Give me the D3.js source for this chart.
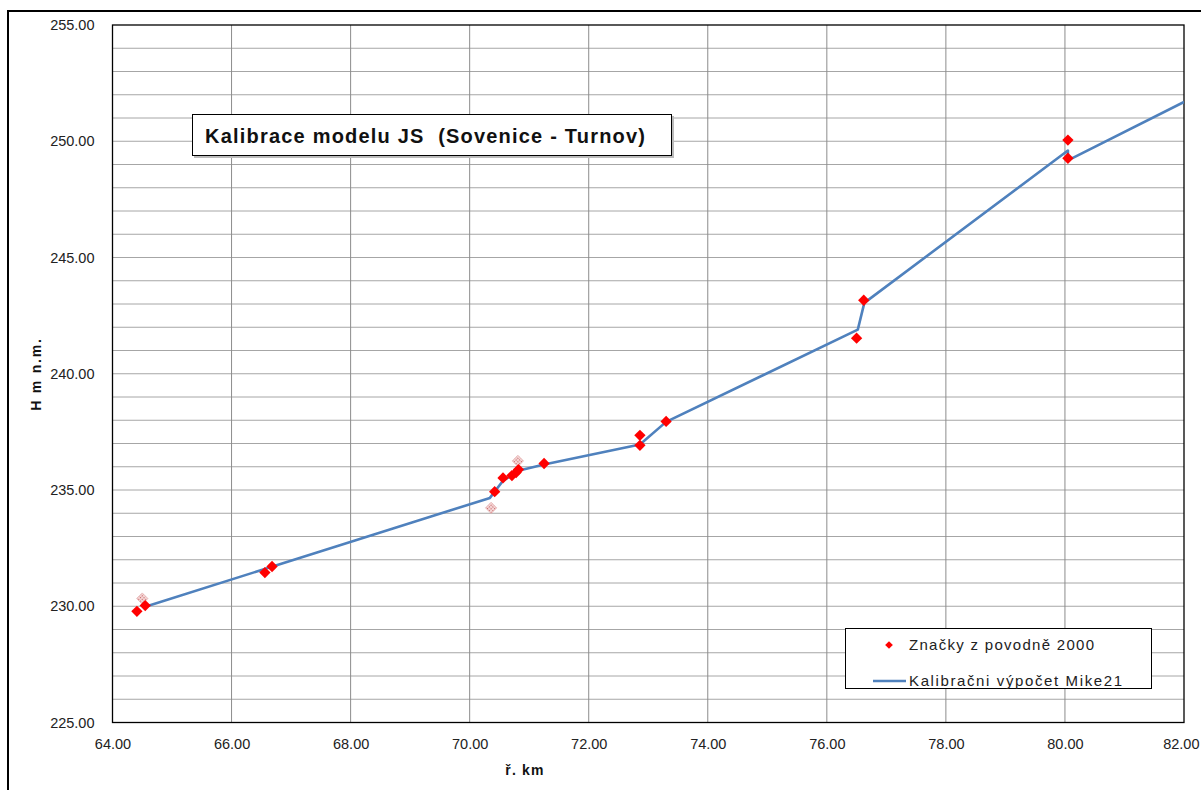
<!DOCTYPE html>
<html><head><meta charset="utf-8">
<script src="https://cdn.jsdelivr.net/npm/d3@7"></script>
<style>body{margin:0;background:#fff}svg{display:block}</style>
</head><body>
<script>
// --- data ---
const xTicks = [64, 66, 68, 70, 72, 74, 76, 78, 80, 82];
const yTicks = [225, 230, 235, 240, 245, 250, 255];
const markX = [64.41, 64.55, 66.56, 66.68, 70.42, 70.56, 70.71, 70.78, 70.82, 71.25, 72.86, 72.86, 73.30, 76.50, 76.62, 80.05, 80.05];
const markY = [229.78, 230.03, 231.45, 231.71, 234.93, 235.52, 235.62, 235.75, 235.88, 236.14, 237.35, 236.92, 237.95, 241.53, 243.16, 250.05, 249.27];
const hatchX = [64.50, 70.36, 70.81];
const hatchY = [230.33, 234.23, 236.25];
const lineX = [64.55, 70.34, 70.56, 70.85, 71.25, 72.86, 73.30, 76.52, 76.63, 80.05, 80.05, 82.0];
const lineY = [229.98, 234.66, 235.40, 235.85, 236.10, 236.96, 237.93, 241.90, 243.05, 249.60, 249.18, 251.69];
const titleText = "Kalibrace modelu JS  (Sovenice - Turnov)";
const legendLabels = ["Značky z povodně 2000", "Kalibračni výpočet Mike21"];
const xTitle = "ř. km";
const yTitle = "H m n.m.";

const W = 1201, H = 790;
const svg = d3.select("body").append("svg").attr("width", W).attr("height", H);
const font = "'Liberation Sans', Arial, sans-serif";

// outer frame
svg.append("rect").attr("x", 8).attr("y", 11).attr("width", 1220).attr("height", 800)
  .attr("fill", "#fff").attr("stroke", "#000").attr("stroke-width", 2);

const L = 112.5, R = 1184, T = 25, B = 722.5;
const x = d3.scaleLinear().domain([64, 82]).range([L, R]);
const y = d3.scaleLinear().domain([225, 255]).range([B, T]);

// pattern for hatched markers
const defs = svg.append("defs");
const pat = defs.append("pattern").attr("id", "hatch").attr("patternUnits", "userSpaceOnUse")
  .attr("width", 2.5).attr("height", 2.5);
pat.append("rect").attr("width", 2.5).attr("height", 2.5).attr("fill", "#f6dada");
pat.append("rect").attr("width", 1.2).attr("height", 1.2).attr("fill", "#c96a6a");
defs.append("clipPath").attr("id", "clip").append("rect").attr("x", L).attr("y", T).attr("width", R - L).attr("height", B - T);

// gridlines
const g = svg.append("g");
g.selectAll(".hg").data(d3.range(226, 255)).join("line")
  .attr("x1", L).attr("x2", R).attr("y1", d => y(d)).attr("y2", d => y(d))
  .attr("stroke", "#a6a6a6").attr("stroke-width", 1);
g.selectAll(".vg").data(xTicks.slice(1, -1)).join("line")
  .attr("y1", T).attr("y2", B).attr("x1", d => x(d)).attr("x2", d => x(d))
  .attr("stroke", "#8c8c8c").attr("stroke-width", 1);
svg.append("rect").attr("x", L).attr("y", T).attr("width", R - L).attr("height", B - T)
  .attr("fill", "none").attr("stroke", "#000").attr("stroke-width", 1.3);

// axes (labels only, via d3 axes)
const xAxis = svg.append("g").attr("transform", `translate(0,${B})`)
  .call(d3.axisBottom(x).tickValues(xTicks).tickFormat(d3.format(".2f")).tickSize(0).tickPadding(16));
xAxis.select(".domain").remove();
xAxis.selectAll("text").attr("font-family", font).attr("font-size", 14.5).attr("fill", "#222");
// keep the last label inside the page (as in the reference)
xAxis.selectAll(".tick").filter(d => d === xTicks[xTicks.length - 1]).select("text")
  .attr("text-anchor", "end").attr("x", 1199 - x(xTicks[xTicks.length - 1]));
const yAxis = svg.append("g").attr("transform", `translate(${L},0)`)
  .call(d3.axisLeft(y).tickValues(yTicks).tickFormat(d3.format(".2f")).tickSize(0).tickPadding(18));
yAxis.select(".domain").remove();
yAxis.selectAll("text").attr("font-family", font).attr("font-size", 14.5).attr("fill", "#222");

// axis titles
svg.append("text").attr("x", 525).attr("y", 775).attr("text-anchor", "middle")
  .attr("font-family", font).attr("font-weight", "bold").attr("font-size", 14).attr("letter-spacing", 1.2)
  .attr("fill", "#111").text(xTitle);
svg.append("text").attr("transform", "translate(41,374) rotate(-90)").attr("text-anchor", "middle")
  .attr("font-family", font).attr("font-weight", "bold").attr("font-size", 14).attr("letter-spacing", 1.8)
  .attr("fill", "#111").text(yTitle);

// line
const plot = svg.append("g").attr("clip-path", "url(#clip)");
const lineData = lineX.map((v, i) => [v, lineY[i]]);
plot.append("path").datum(lineData)
  .attr("d", d3.line().x(d => x(d[0])).y(d => y(d[1])))
  .attr("fill", "none").attr("stroke", "#4f81bd").attr("stroke-width", 2.6).attr("stroke-linejoin", "round");

// markers
const diamond = d3.symbol().type(d3.symbolSquare).size(64);
plot.selectAll(".hm").data(hatchX.map((v, i) => [v, hatchY[i]])).join("path")
  .attr("d", diamond).attr("transform", d => `translate(${x(d[0])},${y(d[1])}) rotate(45)`)
  .attr("fill", "url(#hatch)").attr("stroke", "#e2a8a8").attr("stroke-width", 0.6);
plot.selectAll(".mk").data(markX.map((v, i) => [v, markY[i]])).join("path")
  .attr("d", diamond).attr("transform", d => `translate(${x(d[0])},${y(d[1])}) rotate(45)`)
  .attr("fill", "#ff0000");

// title box
svg.append("rect").attr("x", 194).attr("y", 116).attr("width", 480).attr("height", 42).attr("fill", "#bbb");
svg.append("rect").attr("x", 192.5).attr("y", 114.5).attr("width", 479).attr("height", 41)
  .attr("fill", "#fff").attr("stroke", "#000").attr("stroke-width", 1);
svg.append("text").attr("x", 205).attr("y", 143).attr("font-family", font).attr("font-weight", "bold")
  .attr("font-size", 20).attr("textLength", 440).attr("lengthAdjust", "spacing")
  .style("white-space", "pre").attr("fill", "#111").text(titleText);

// legend
const lg = svg.append("g");
lg.append("rect").attr("x", 845.5).attr("y", 628.5).attr("width", 306).attr("height", 60)
  .attr("fill", "#fff").attr("stroke", "#000").attr("stroke-width", 1);
lg.append("path").attr("d", d3.symbol().type(d3.symbolSquare).size(30))
  .attr("transform", "translate(889,645) rotate(45)").attr("fill", "#ff0000");
lg.append("line").attr("x1", 873).attr("x2", 906).attr("y1", 681).attr("y2", 681)
  .attr("stroke", "#4f81bd").attr("stroke-width", 2.6);
const lens = [185, 213];
legendLabels.forEach((t, i) => {
  lg.append("text").attr("x", 909).attr("y", 650 + i * 36).attr("font-family", font).attr("font-size", 15)
    .attr("textLength", lens[i]).attr("lengthAdjust", "spacing").attr("fill", "#222").text(t);
});
</script>
</body></html>
